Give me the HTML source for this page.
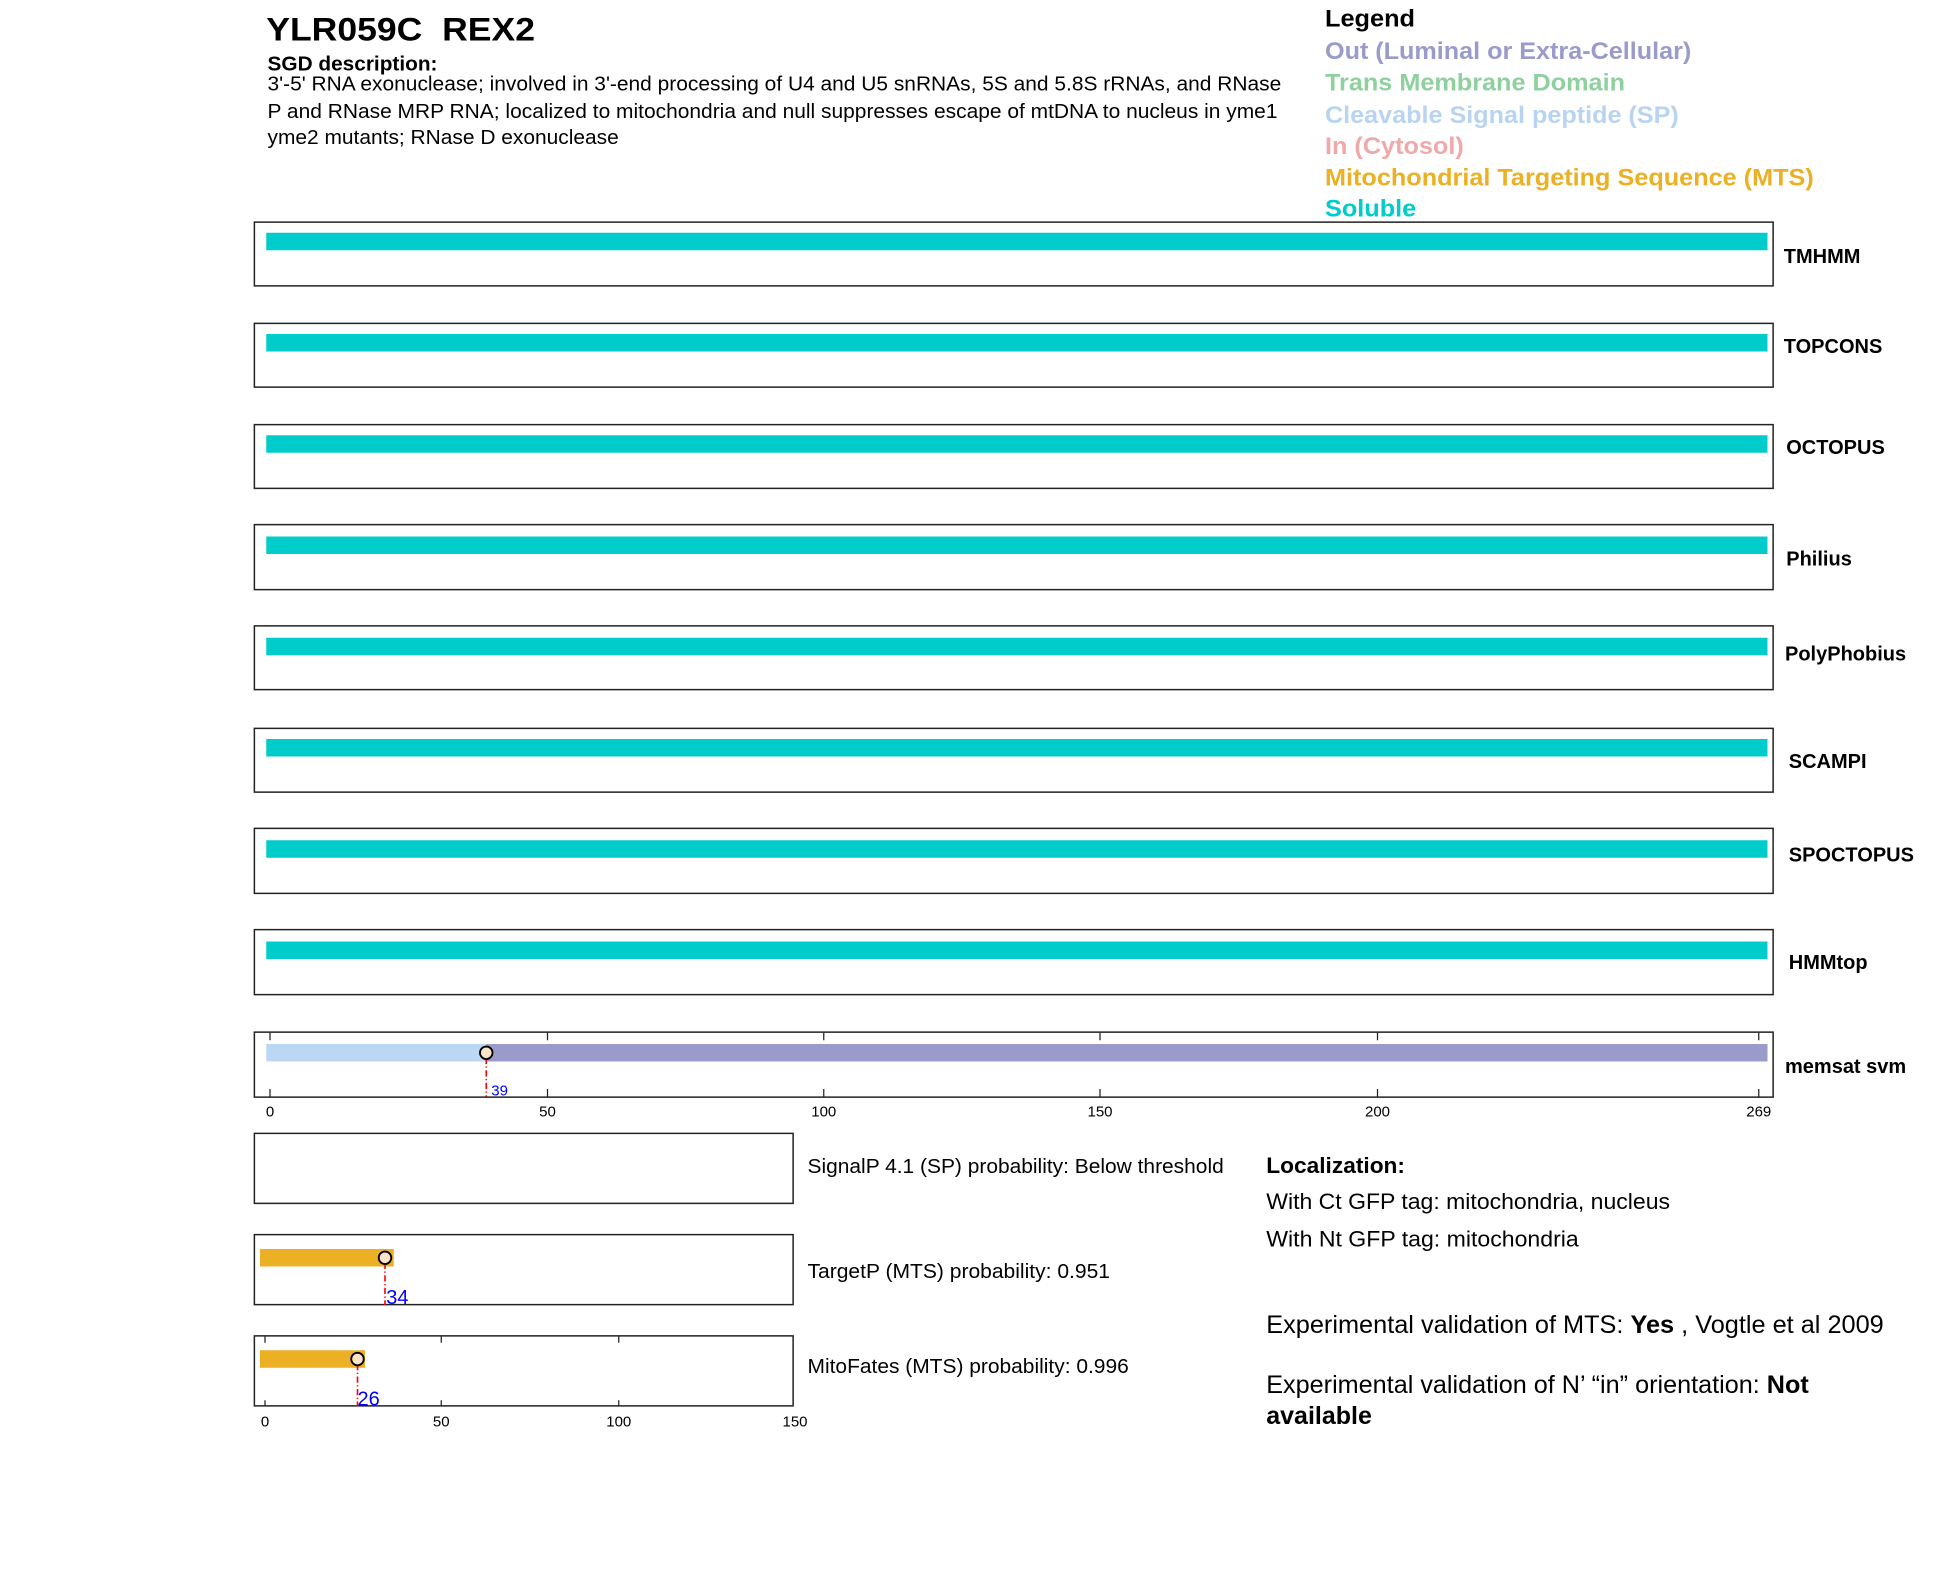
<!DOCTYPE html>
<html><head><meta charset="utf-8"><style>
html,body{margin:0;padding:0;background:#fff;}
svg{display:block;}
text{font-family:"Liberation Sans",sans-serif;}
</style></head><body>
<svg width="1950" height="1573" viewBox="0 0 1560 1258" xmlns="http://www.w3.org/2000/svg">
<rect width="1560" height="1258" fill="#fff"/>
<text x="213" y="32" font-size="26" font-weight="bold" textLength="215" lengthAdjust="spacingAndGlyphs">YLR059C&#160; REX2</text>
<text x="214" y="56" font-size="16" font-weight="bold" textLength="136" lengthAdjust="spacingAndGlyphs">SGD description:</text>
<text x="214" y="72" font-size="16" textLength="811" lengthAdjust="spacingAndGlyphs">3'-5' RNA exonuclease; involved in 3'-end processing of U4 and U5 snRNAs, 5S and 5.8S rRNAs, and RNase</text>
<text x="214" y="94" font-size="16" textLength="808" lengthAdjust="spacingAndGlyphs">P and RNase MRP RNA; localized to mitochondria and null suppresses escape of mtDNA to nucleus in yme1</text>
<text x="214" y="115" font-size="16" textLength="281" lengthAdjust="spacingAndGlyphs">yme2 mutants; RNase D exonuclease</text>

<g font-size="19" font-weight="bold">
<text x="1060" y="21" fill="#000" textLength="72" lengthAdjust="spacingAndGlyphs">Legend</text>
<text x="1060" y="47" fill="#9b9bcb" textLength="293" lengthAdjust="spacingAndGlyphs">Out (Luminal or Extra-Cellular)</text>
<text x="1060" y="72" fill="#8fd19e" textLength="240" lengthAdjust="spacingAndGlyphs">Trans Membrane Domain</text>
<text x="1060" y="98" fill="#b8d4f0" textLength="283" lengthAdjust="spacingAndGlyphs">Cleavable Signal peptide (SP)</text>
<text x="1060" y="123" fill="#f0a8a8" textLength="111" lengthAdjust="spacingAndGlyphs">In (Cytosol)</text>
<text x="1060" y="148" fill="#ebb023" textLength="391" lengthAdjust="spacingAndGlyphs">Mitochondrial Targeting Sequence (MTS)</text>
<text x="1060" y="173" fill="#00cccc" textLength="73" lengthAdjust="spacingAndGlyphs">Soluble</text>
</g>

<g stroke="#222" stroke-width="1.2" fill="none">
<rect x="203.5" y="177.5" width="1215" height="51"/>
<rect x="203.5" y="258.5" width="1215" height="51"/>
<rect x="203.5" y="339.5" width="1215" height="51"/>
<rect x="203.5" y="419.5" width="1215" height="52"/>
<rect x="203.5" y="500.5" width="1215" height="51"/>
<rect x="203.5" y="582.5" width="1215" height="51"/>
<rect x="203.5" y="662.5" width="1215" height="52"/>
<rect x="203.5" y="743.5" width="1215" height="52"/>
<rect x="203.5" y="825.5" width="1215" height="52"/>
</g>
<g fill="#00cccc">
<rect x="213" y="186" width="1201" height="14"/>
<rect x="213" y="267" width="1201" height="14"/>
<rect x="213" y="348" width="1201" height="14"/>
<rect x="213" y="429" width="1201" height="14"/>
<rect x="213" y="510" width="1201" height="14"/>
<rect x="213" y="591" width="1201" height="14"/>
<rect x="213" y="672" width="1201" height="14"/>
<rect x="213" y="753" width="1201" height="14"/>
</g>
<g font-size="16" font-weight="bold">
<text x="1427" y="210">TMHMM</text>
<text x="1427" y="282">TOPCONS</text>
<text x="1429" y="363">OCTOPUS</text>
<text x="1429" y="452">Philius</text>
<text x="1428" y="528">PolyPhobius</text>
<text x="1431" y="614">SCAMPI</text>
<text x="1431" y="689">SPOCTOPUS</text>
<text x="1431" y="775">HMMtop</text>
<text x="1428" y="858">memsat svm</text>
</g>

<rect x="213" y="835" width="176" height="14" fill="#bcd7f3"/>
<rect x="389" y="835" width="1025" height="14" fill="#9b9bcb"/>
<g stroke="#222" stroke-width="1">
<line x1="216" y1="826" x2="216" y2="832"/><line x1="216" y1="877" x2="216" y2="871"/>
<line x1="438" y1="826" x2="438" y2="832"/><line x1="438" y1="877" x2="438" y2="871"/>
<line x1="659" y1="826" x2="659" y2="832"/><line x1="659" y1="877" x2="659" y2="871"/>
<line x1="880" y1="826" x2="880" y2="832"/><line x1="880" y1="877" x2="880" y2="871"/>
<line x1="1102" y1="826" x2="1102" y2="832"/><line x1="1102" y1="877" x2="1102" y2="871"/>
<line x1="1407" y1="826" x2="1407" y2="832"/><line x1="1407" y1="877" x2="1407" y2="871"/>
</g>
<line x1="389" y1="846" x2="389" y2="877" stroke="#f00" stroke-width="1.3" stroke-dasharray="5,2,1,2"/>
<circle cx="389" cy="842" r="5" fill="#fde3c8" stroke="#000" stroke-width="1.5"/>
<text x="393" y="876" font-size="12" fill="#00f">39</text>
<g font-size="12" text-anchor="middle">
<text x="216" y="893">0</text><text x="438" y="893">50</text><text x="659" y="893">100</text>
<text x="880" y="893">150</text><text x="1102" y="893">200</text><text x="1407" y="893">269</text>
</g>

<g stroke="#222" stroke-width="1.2" fill="none">
<rect x="203.5" y="906.5" width="431" height="56"/>
<rect x="203.5" y="987.5" width="431" height="56"/>
<rect x="203.5" y="1068.5" width="431" height="56"/>
</g>
<rect x="208" y="999" width="107" height="14" fill="#ebb023"/>
<line x1="308" y1="1010" x2="308" y2="1044" stroke="#f00" stroke-width="1.3" stroke-dasharray="5,2,1,2"/>
<circle cx="308" cy="1006" r="5" fill="#fde3c8" stroke="#000" stroke-width="1.5"/>
<text x="309" y="1043" font-size="16" fill="#00f">34</text>
<rect x="208" y="1080" width="84" height="14" fill="#ebb023"/>
<line x1="286" y1="1091" x2="286" y2="1125" stroke="#f00" stroke-width="1.3" stroke-dasharray="5,2,1,2"/>
<circle cx="286" cy="1087" r="5" fill="#fde3c8" stroke="#000" stroke-width="1.5"/>
<text x="286" y="1124" font-size="16" fill="#00f">26</text>
<g stroke="#222" stroke-width="1">
<line x1="212" y1="1069" x2="212" y2="1074"/><line x1="212" y1="1125" x2="212" y2="1120"/>
<line x1="353" y1="1069" x2="353" y2="1074"/><line x1="353" y1="1125" x2="353" y2="1120"/>
<line x1="495" y1="1069" x2="495" y2="1074"/><line x1="495" y1="1125" x2="495" y2="1120"/>
</g>
<g font-size="12" text-anchor="middle">
<text x="212" y="1141">0</text><text x="353" y="1141">50</text><text x="495" y="1141">100</text><text x="636" y="1141">150</text>
</g>
<g font-size="16">
<text x="646" y="938" textLength="333" lengthAdjust="spacingAndGlyphs">SignalP 4.1 (SP) probability: Below threshold</text>
<text x="646" y="1022" textLength="242" lengthAdjust="spacingAndGlyphs">TargetP (MTS) probability: 0.951</text>
<text x="646" y="1098" textLength="257" lengthAdjust="spacingAndGlyphs">MitoFates (MTS) probability: 0.996</text>
</g>
<text x="1013" y="938" font-size="18" font-weight="bold" textLength="111" lengthAdjust="spacingAndGlyphs">Localization:</text>
<text x="1013" y="967" font-size="18" textLength="323" lengthAdjust="spacingAndGlyphs">With Ct GFP tag: mitochondria, nucleus</text>
<text x="1013" y="997" font-size="18" textLength="250" lengthAdjust="spacingAndGlyphs">With Nt GFP tag: mitochondria</text>
<text x="1013" y="1066" font-size="20" textLength="494" lengthAdjust="spacingAndGlyphs">Experimental validation of MTS: <tspan font-weight="bold">Yes</tspan> , Vogtle et al 2009</text>
<text x="1013" y="1114" font-size="20" textLength="434" lengthAdjust="spacingAndGlyphs">Experimental validation of N’ “in” orientation: <tspan font-weight="bold">Not</tspan></text>
<text x="1013" y="1139" font-size="20" font-weight="bold">available</text>
</svg>
</body></html>
